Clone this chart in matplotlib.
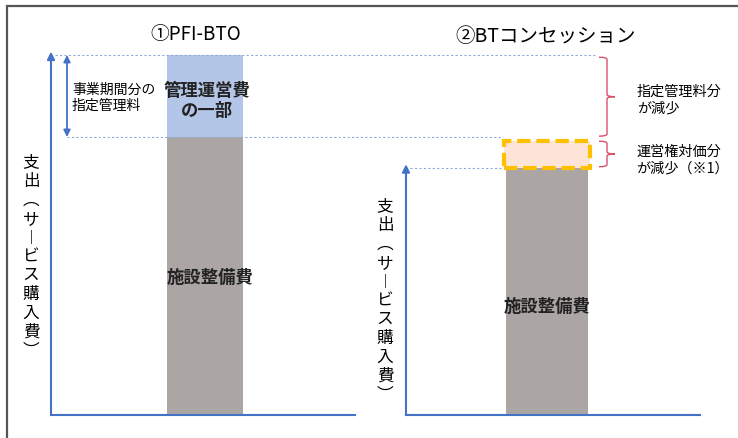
import matplotlib
matplotlib.use("Agg")
import matplotlib.pyplot as plt
from matplotlib.patches import Rectangle, PathPatch
from matplotlib.path import Path

plt.rcParams['font.family'] = ['Noto Sans CJK JP', 'DejaVu Sans']

# ---------------------------
# DATA (arbitrary units, 施設整備費 of ① = 100)
# ---------------------------
panels = ["①PFI-BTO", "②BTコンセッション"]
facility = [100, 89]        # 施設整備費
mgmt = [29.5, 0]            # 管理運営費の一部
concession = [0, 9.5]       # 運営権対価分
bar_labels = ["施設整備費", "施設整備費"]
ylabel_chars = ["支", "出", "︵", "サ", "︱", "ビ", "ス", "購", "入", "費", "︶"]

# ---------------------------
# LAYOUT (x in pixels, y in data units)
# ---------------------------
W, H = 738, 439
BASE_PX = 416        # pixel row of the value 0
PX_PER_UNIT = 2.78

bar_x = [205, 547]
bar_w = [76, 82]
axis_x = [51, 406]
axis_end = [355, 700]

BLUE = "#4472c4"
GRAY = "#aba6a4"
LIGHT_BLUE = "#b4c6e7"
YELLOW = "#ffc000"
PEACH = "#fce4d6"
DOT = "#8faadc"
RED = "#d9506e"


def py(p):
    # pixel row -> data value
    return (BASE_PX - p) / PX_PER_UNIT


fig = plt.figure(figsize=(W / 100, H / 100), dpi=100)
ax = fig.add_axes([0, 0, 1, 1])
ax.set_xlim(0, W)
ax.set_ylim(py(H), py(0))
ax.axis("off")

# frame (cut off on right and bottom)
fig.patches.append(Rectangle((7 / W, -0.1), 1.2, 1.1 - 7 / H,
                             transform=fig.transFigure, fill=False,
                             edgecolor="#555555", lw=1.6))

# ---------------------------
# BARS
# ---------------------------
for i in range(2):
    ax.bar(bar_x[i], facility[i], width=bar_w[i], color=GRAY, zorder=2)
    if mgmt[i] > 0:
        ax.bar(bar_x[i], mgmt[i], bottom=facility[i], width=bar_w[i],
               color=LIGHT_BLUE, zorder=2)
    if concession[i] > 0:
        ax.bar(bar_x[i], concession[i], bottom=facility[i], width=bar_w[i] + 4,
               color=PEACH, edgecolor=YELLOW, lw=3.0, linestyle=(0, (3.2, 1.4)),
               zorder=3)

# ---------------------------
# AXES WITH ARROWS
# ---------------------------
tops = [facility[0] + mgmt[0], facility[1]]
for i in range(2):
    ax.plot([axis_x[i], axis_end[i]], [0, 0], color=BLUE, lw=1.5, zorder=4)
    ax.annotate("", xy=(axis_x[i], tops[i] + 1.2), xytext=(axis_x[i], 0),
                arrowprops=dict(arrowstyle="-|>", color=BLUE, lw=1.5,
                                mutation_scale=11, shrinkA=0, shrinkB=0),
                zorder=4)

# double arrow for 指定管理料
ax.annotate("", xy=(67, tops[0]), xytext=(67, facility[0]),
            arrowprops=dict(arrowstyle="<|-|>", color=BLUE, lw=1.3,
                            mutation_scale=10, shrinkA=0, shrinkB=0))

# dotted guide lines
ax.plot([55, 597], [tops[0], tops[0]], color=DOT, lw=0.8, ls=(0, (2, 2)))
ax.plot([67, 503], [facility[0], facility[0]], color=DOT, lw=0.8, ls=(0, (2, 2)))
ax.plot([410, 503], [facility[1], facility[1]], color=DOT, lw=0.8, ls=(0, (2, 2)))


# ---------------------------
# BRACES
# ---------------------------
def brace(x, yt, yb, w=8, r=0.8):
    ym = (yt + yb) / 2
    verts = [(x - w, yt), (x, yt), (x, yt - r),
             (x, ym + r),
             (x, ym), (x + w, ym),
             (x, ym), (x, ym - r),
             (x, yb + r),
             (x, yb), (x - w, yb)]
    codes = [Path.MOVETO, Path.CURVE3, Path.CURVE3,
             Path.LINETO,
             Path.CURVE3, Path.CURVE3,
             Path.CURVE3, Path.CURVE3,
             Path.LINETO,
             Path.CURVE3, Path.CURVE3]
    ax.add_patch(PathPatch(Path(verts, codes), fill=False, edgecolor=RED, lw=1.0))


brace(607, tops[0] - 0.8, facility[0] + 0.3)
brace(607, facility[1] + concession[1], facility[1] + 0.3)

# ---------------------------
# TEXT
# ---------------------------
ax.text(196, py(35), panels[0], ha="center", va="center", fontsize=13.5)
ax.text(546, py(37), panels[1], ha="center", va="center", fontsize=14)

ax.text(72, py(98), "事業期間分の\n指定管理料", ha="left", va="center",
        fontsize=10, linespacing=1.2)
ax.text(bar_x[0] + 2, py(101), "管理運営費\nの一部", ha="center", va="center",
        fontsize=12.5, fontweight="bold", linespacing=1.15, color="#222222")
ax.text(bar_x[0] + 5, py(278), bar_labels[0], ha="center", va="center",
        fontsize=12.5, fontweight="bold", color="#222222")
ax.text(bar_x[1], py(307), bar_labels[1], ha="center", va="center",
        fontsize=12.5, fontweight="bold", color="#222222")

ax.text(637, py(100), "指定管理料分\nが減少", ha="left", va="center",
        fontsize=10.2, linespacing=1.25)
ax.text(636, py(160), "運営権対価分\nが減少（※1）", ha="left", va="center",
        fontsize=10.2, linespacing=1.25)

# vertical y labels
for x0, y0 in [(31, 163), (385, 207)]:
    for k, ch in enumerate(ylabel_chars):
        ax.text(x0, py(y0 + k * 18.8), ch, ha="center", va="center", fontsize=12)

fig.savefig("out.png", dpi=100)
